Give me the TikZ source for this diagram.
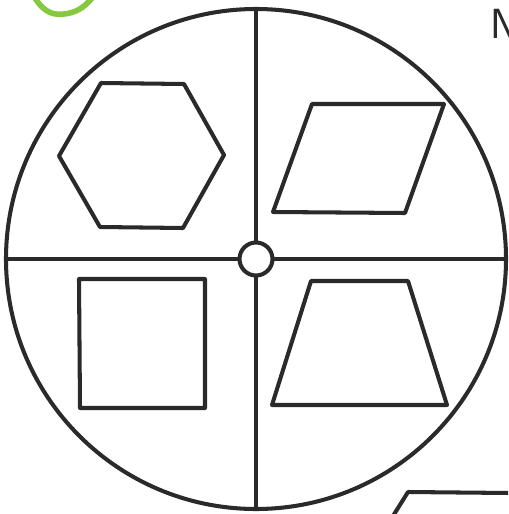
\documentclass[tikz,border=0pt]{standalone}
\usepackage{xcolor}
\definecolor{ink}{HTML}{2A2A2A}
\definecolor{leaf}{HTML}{86C840}
\usepackage{tikz}
\usetikzlibrary{positioning, calc}

\begin{document}
\begin{tikzpicture}[x=0.02cm, y=-0.02cm,
    pen/.style={draw=ink, line width=2.3pt, line join=round, line cap=round},
    hubnode/.style={circle, draw=ink, line width=2.3pt, fill=white, inner sep=0pt, minimum size=0.66cm}]
      \useasboundingbox (0,0) rectangle (508,514);
      \clip (0,0) rectangle (508,514);

      % Spinner
      \coordinate (c) at (256,259);
      \draw[pen] (c) circle[radius=250];
      \node[hubnode] (hub) at (c) {};
      \draw[pen] (hub.north) -- ($(c)+(0,-250)$);
      \draw[pen] (hub.south) -- ($(c)+(0,250)$);
      \draw[pen] (hub.west) -- ($(c)+(-250,0)$);
      \draw[pen] (hub.east) -- ($(c)+(250,0)$);

      % Shapes
      \draw[pen] (101,83) -- (184,84) -- (224,155) -- (183,228) -- (100,227) -- (59,156) -- cycle;
      \draw[pen] (312,104) -- (444,104) -- (405,213) -- (273,212) -- cycle;
      \draw[pen] (79,279) -- (205,279) -- (205,408) -- (80,408) -- cycle;
      \draw[pen] (311,281) -- (408,281) -- (447,405) -- (272,405) -- cycle;

      % Cut-off bits at the edges
      \draw[draw=leaf, line width=3.2pt, line cap=round] (35,-2) .. controls (45,14) and (55,15) .. (64,14) .. controls (75,13) and (84,8) .. (92,-2);
      \node[anchor=west, inner sep=0pt, text=ink, font=\sffamily\fontsize{24}{24}\selectfont] (mark) at (490,24) {N};
      \draw[pen] (393,516) -- (408,492) -- (510,493);
\end{tikzpicture}
\end{document}
